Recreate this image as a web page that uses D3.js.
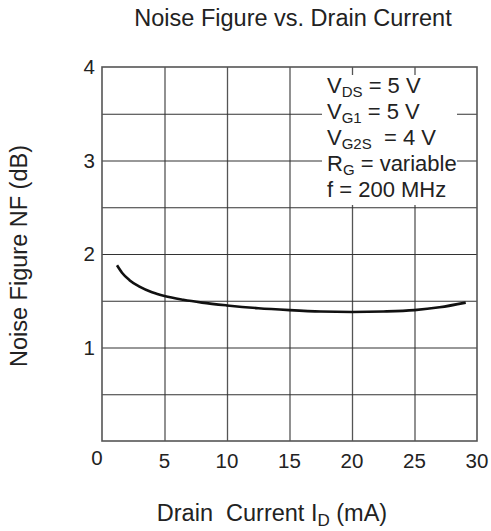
<!DOCTYPE html>
<html>
<head>
<meta charset="utf-8">
<script src="https://cdn.jsdelivr.net/npm/d3@7"></script>
<style>
  body { margin: 0; background: #fff; }
  text { font-family: "Liberation Sans", Arial, sans-serif; fill: #222; }
</style>
</head>
<body>
<div id="app"></div>
<script>
const current = [1.2, 1.6, 2.2, 3, 4, 5, 6.5, 8, 10, 12.5, 15, 17.5, 20, 22.5, 25, 27, 29.1];
const noise = [1.88, 1.80, 1.72, 1.65, 1.59, 1.55, 1.51, 1.48, 1.45, 1.42, 1.40, 1.385, 1.38, 1.385, 1.40, 1.43, 1.48];
const xTicks = [0, 5, 10, 15, 20, 25, 30];
const yTicks = [1, 2, 3, 4];
const yGrid = [0.5, 1, 1.5, 2, 2.5, 3, 3.5];
const legendLines = [
  ['V', 'DS', ' = 5 V'],
  ['V', 'G1', ' = 5 V'],
  ['V', 'G2S', '  = 4 V'],
  ['R', 'G', ' = variable'],
  ['f = 200 MHz', '', '']
];

const w = 491;
const h = 531;
const padL = 102, padR = 477, padT = 67, padB = 441;

const x = d3.scaleLinear().domain([0, 30]).range([padL, padR]);
const y = d3.scaleLinear().domain([0, 4]).range([padB, padT]);

const svg = d3.select('#app').append('svg')
  .attr('width', w)
  .attr('height', h);

// grid
svg.append('g')
  .attr('transform', 'translate(0,' + padB + ')')
  .call(d3.axisBottom(x).tickValues(xTicks.slice(1, -1)).tickSize(-(padB - padT)).tickFormat(''))
  .call(g => g.select('.domain').remove())
  .selectAll('line').attr('stroke', '#555').attr('stroke-width', 1.3);

svg.append('g')
  .attr('transform', 'translate(' + padL + ',0)')
  .call(d3.axisLeft(y).tickValues(yGrid).tickSize(-(padR - padL)).tickFormat(''))
  .call(g => g.select('.domain').remove())
  .selectAll('line').attr('stroke', '#333').attr('stroke-width', 1.2);

// legend background covers grid
svg.append('rect')
  .attr('x', 322).attr('y', 75)
  .attr('width', 135).attr('height', 130)
  .attr('fill', '#fff');

// frame
svg.append('rect')
  .attr('x', padL).attr('y', padT)
  .attr('width', padR - padL).attr('height', padB - padT)
  .attr('fill', 'none').attr('stroke', '#555').attr('stroke-width', 1.6);

// curve
const pts = current.map((c, i) => [c, noise[i]]);
svg.append('path')
  .datum(pts)
  .attr('fill', 'none')
  .attr('stroke', '#111')
  .attr('stroke-width', 2.6)
  .attr('d', d3.line().x(d => x(d[0])).y(d => y(d[1])).curve(d3.curveMonotoneX));

// x tick labels
svg.append('g').selectAll('text')
  .data(xTicks)
  .join('text')
  .attr('x', d => d === 0 ? x(d) - 5 : x(d))
  .attr('y', d => d === 0 ? 465 : 468)
  .attr('text-anchor', 'middle')
  .style('font-size', '20.5px')
  .text(d => d);

// y tick labels
svg.append('g').selectAll('text')
  .data(yTicks)
  .join('text')
  .attr('x', padL - 7)
  .attr('y', d => y(d) + 7)
  .attr('text-anchor', 'end')
  .style('font-size', '20.5px')
  .text(d => d);

// legend text
const leg = svg.append('g');
legendLines.forEach((l, i) => {
  const t = leg.append('text')
    .attr('x', 327)
    .attr('y', 93 + i * 26)
    .style('font-size', '22px')
    .style('white-space', 'pre');
  t.append('tspan').text(l[0]);
  if (l[1]) {
    t.append('tspan').attr('dy', 4).style('font-size', '15px').text(l[1]);
    t.append('tspan').attr('dy', -4).text(l[2]);
  }
});

// title
svg.append('text')
  .attr('x', 293).attr('y', 26)
  .attr('text-anchor', 'middle')
  .style('font-size', '23.5px')
  .text('Noise Figure vs. Drain Current');

// x label
const xl = svg.append('text')
  .attr('x', 272).attr('y', 521)
  .attr('text-anchor', 'middle')
  .style('font-size', '23.5px')
  .style('white-space', 'pre');
xl.append('tspan').text('Drain  Current I');
xl.append('tspan').attr('dy', 5).style('font-size', '17px').text('D');
xl.append('tspan').attr('dy', -5).text(' (mA)');

// y label
svg.append('text')
  .attr('transform', 'translate(27,256) rotate(-90)')
  .attr('text-anchor', 'middle')
  .style('font-size', '23.5px')
  .text('Noise Figure NF (dB)');
</script>
</body>
</html>
